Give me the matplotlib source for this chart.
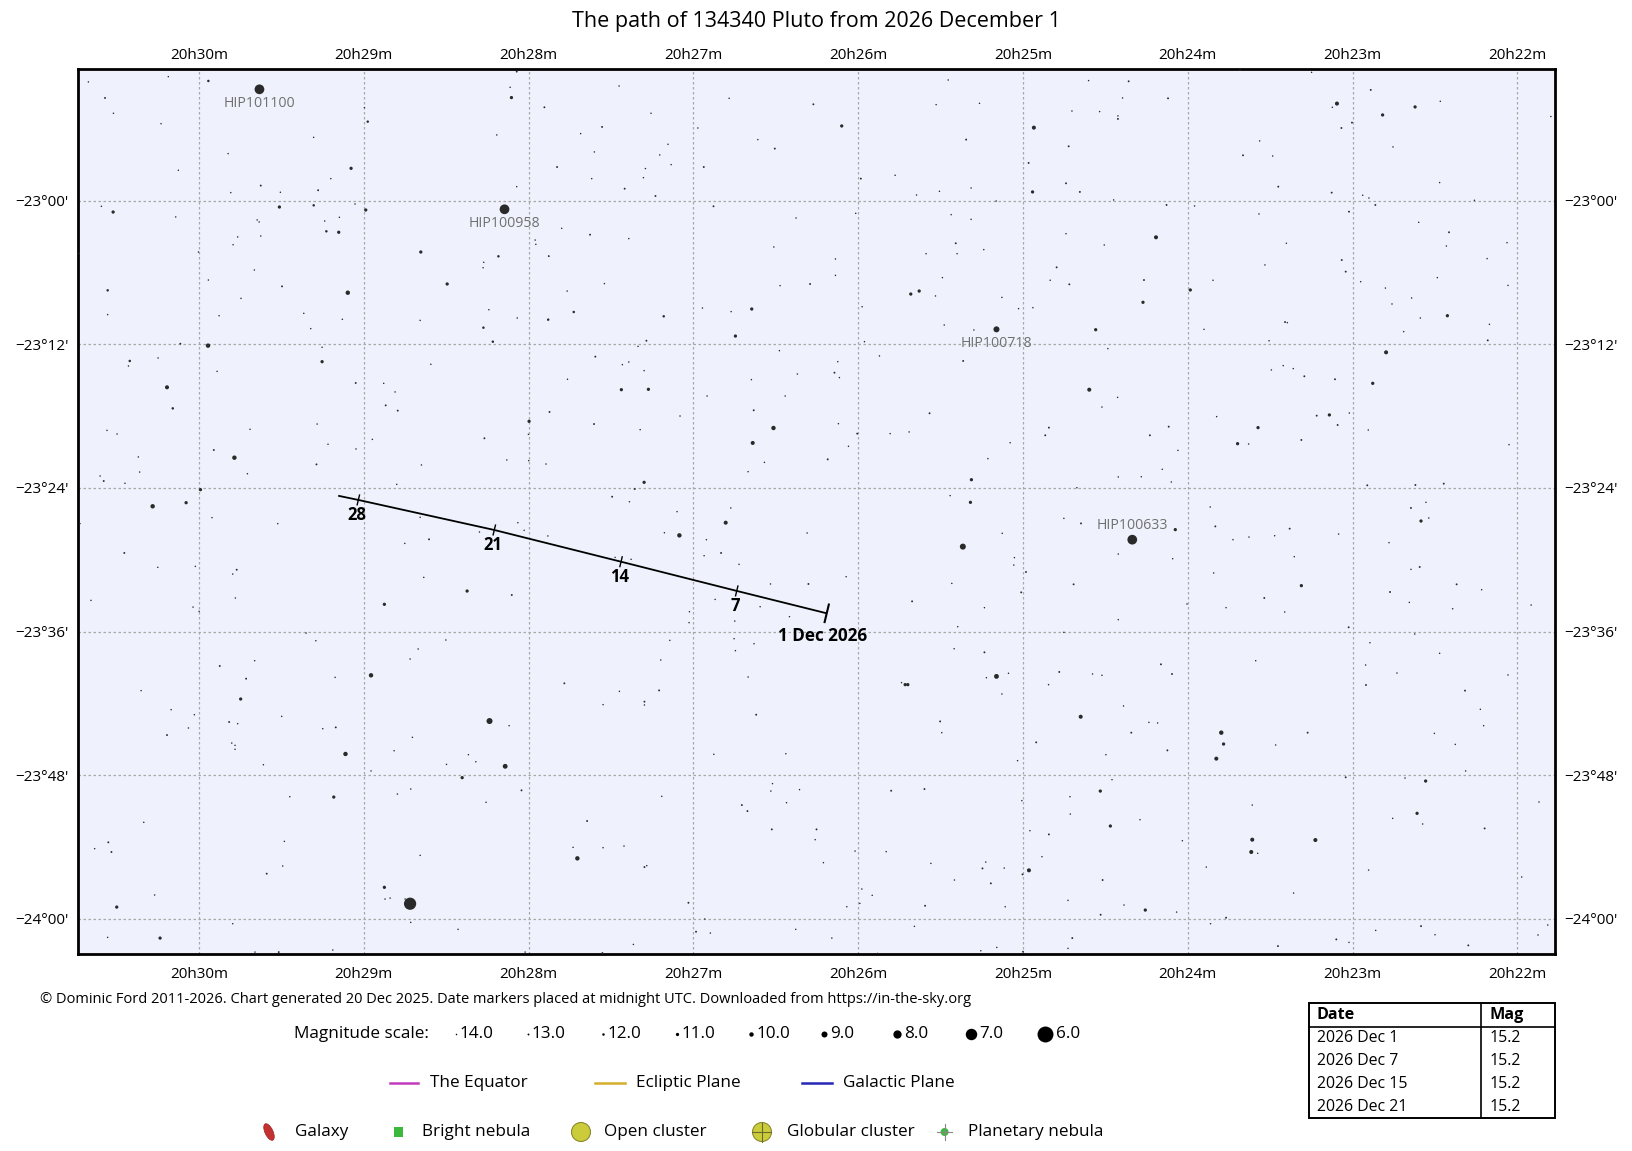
import numpy as np
import matplotlib.pyplot as plt
from matplotlib.patches import Ellipse, Rectangle, Circle

plt.rcParams['font.family'] = ['Open Sans', 'DejaVu Sans']

# ---- data -------------------------------------------------------------
# star positions: RA in minutes after 20h, Dec in arcmin south of -23d00', magnitude
stars_nw = [
    (30.671, -9.92, 14), (30.186, -10.36, 14), (29.943, -10.00, 12), (30.570, -8.58, 13),
    (30.519, -7.30, 14), (30.230, -6.43, 14), (28.996, -7.77, 14), (28.976, -6.60, 12),
    (29.304, -5.29, 14), (29.823, -3.93, 14), (30.125, -2.54, 14), (29.077, -2.70, 11),
    (29.200, -1.84, 14), (29.625, -1.26, 13), (29.277, -0.87, 13), (29.807, -0.67, 14),
    (29.506, -0.70, 14), (28.072, -10.78, 13), (28.112, -9.47, 14), (28.104, -8.61, 11),
    (27.904, -7.80, 13), (28.193, -5.49, 14), (28.072, -1.17, 14), (30.592, 0.47, 14),
    (30.521, 0.95, 11), (30.141, 1.36, 14), (29.512, 0.53, 11), (29.304, 0.39, 12),
    (29.053, 0.28, 14), (28.988, 0.78, 11), (29.148, 1.39, 14), (29.237, 1.70, 14),
    (29.647, 1.61, 14), (29.635, 1.78, 14), (29.227, 2.56, 12), (29.152, 2.64, 11),
    (29.765, 3.03, 14), (29.625, 2.95, 14), (29.793, 3.68, 14), (30.728, 4.40, 14),
    (30.003, 4.29, 14), (29.664, 5.79, 14), (29.496, 7.16, 13), (29.943, 6.63, 14),
    (29.097, 7.69, 10), (30.554, 7.49, 12), (29.745, 8.16, 14), (30.554, 9.52, 14),
    (29.878, 9.61, 14), (29.364, 9.41, 14), (29.322, 10.69, 14), (29.130, 9.91, 14),
    (28.654, 4.29, 11), (28.183, 4.65, 12), (28.272, 5.15, 14), (28.276, 5.60, 14),
    (27.960, 3.29, 14), (27.956, 3.65, 14), (27.877, 4.65, 14), (28.494, 6.96, 11),
    (28.241, 9.11, 14), (28.069, 9.80, 14), (27.881, 9.94, 12), (28.658, 10.00, 14),
    (28.274, 10.61, 12), (28.217, 11.78, 12), (30.113, 11.95, 13), (29.945, 12.11, 10),
    (29.253, 12.25, 14),
]
stars_w = [
    (30.420, 13.39, 12), (30.428, 13.81, 14), (30.248, 13.14, 14), (30.194, 15.59, 10.3),
    (30.159, 17.35, 12), (29.890, 14.26, 14), (29.253, 13.45, 11), (29.049, 15.23, 13),
    (30.558, 19.19, 14), (30.497, 19.49, 14), (30.368, 21.41, 14), (30.360, 22.67, 14),
    (30.600, 23.00, 14), (30.578, 23.42, 13), (30.449, 23.61, 14), (29.910, 20.83, 13),
    (29.785, 21.47, 10), (29.690, 19.10, 14), (29.706, 22.81, 14), (29.283, 18.66, 14),
    (29.217, 20.35, 14), (29.047, 20.74, 14), (29.287, 22.03, 13), (28.879, 15.26, 14),
    (28.810, 15.98, 14), (28.867, 17.10, 13), (28.794, 17.54, 13), (28.948, 19.94, 14),
    (28.593, 13.67, 14), (28.650, 22.08, 14), (28.800, 23.70, 14), (28.268, 19.85, 13),
    (28.132, 21.66, 14), (27.997, 18.43, 11), (28.001, 19.52, 14), (27.999, 21.72, 14),
    (27.894, 22.00, 14), (27.873, 17.65, 13), (29.991, 24.14, 11), (30.281, 25.53, 10),
    (30.078, 25.23, 11), (30.722, 26.98, 14), (29.921, 26.48, 14), (29.522, 26.98, 14),
    (28.658, 26.45, 14), (28.604, 28.29, 13), (28.751, 28.63, 14), (28.298, 27.68, 14),
    (28.065, 26.90, 14), (28.027, 27.54, 14), (27.883, 28.01, 14), (30.453, 29.43, 13),
    (30.250, 30.63, 14), (30.022, 30.55, 14), (29.795, 31.19, 14), (29.771, 30.83, 13),
    (29.779, 33.19, 14), (30.655, 33.39, 14), (30.036, 33.95, 14), (29.999, 34.31, 14),
    (28.636, 31.47, 14), (28.373, 32.61, 11), (28.102, 32.94, 13), (28.875, 33.72, 11),
    (29.350, 36.12, 14), (29.291, 36.76, 14), (28.502, 36.70, 14), (28.670, 37.45, 14),
]
stars_sw = [
    (29.874, 38.87, 13), (29.662, 38.43, 14), (29.714, 39.93, 13), (29.747, 41.63, 11),
    (30.351, 40.93, 14), (30.169, 42.52, 14), (30.028, 42.94, 14), (30.064, 44.05, 14),
    (30.194, 44.64, 13), (29.817, 43.55, 13), (29.765, 43.69, 14), (29.801, 45.31, 14),
    (29.781, 45.50, 14), (29.781, 45.83, 14), (29.609, 47.12, 14), (29.498, 43.08, 14),
    (29.174, 39.82, 14), (29.249, 44.11, 14), (29.170, 44.00, 13), (29.111, 46.22, 10),
    (28.956, 39.65, 10), (28.719, 38.29, 14), (28.705, 44.83, 14), (28.816, 45.95, 14),
    (28.237, 43.47, 9), (28.118, 43.86, 14), (28.365, 46.28, 14), (28.320, 46.87, 14),
    (28.498, 47.09, 14), (28.142, 47.25, 9.7), (28.403, 48.20, 11), (28.043, 49.26, 13),
    (28.258, 50.26, 14), (28.796, 49.57, 14), (28.715, 49.15, 14), (28.956, 47.64, 14),
    (29.449, 49.79, 14), (29.182, 49.82, 11), (30.335, 51.93, 14), (30.550, 53.60, 13),
    (30.633, 54.13, 14), (30.531, 54.41, 13), (29.482, 53.52, 14), (29.492, 55.58, 14),
    (29.589, 56.22, 13), (28.658, 54.69, 14), (28.875, 57.36, 11), (28.871, 58.34, 14),
    (28.840, 58.26, 14), (28.749, 58.34, 14), (28.719, 58.73, 6.8), (28.715, 60.29, 14),
    (28.428, 60.87, 14), (30.269, 58.00, 14), (30.499, 59.01, 11), (30.554, 61.54, 14),
    (30.236, 61.60, 11), (29.795, 60.40, 14), (29.660, 62.77, 14), (29.516, 62.77, 13),
    (29.188, 62.60, 14), (28.021, 62.77, 14),
]
stars_n = [
    (27.451, -9.58, 14), (27.257, -7.30, 14), (27.684, -5.60, 14), (27.554, -6.16, 13),
    (27.601, -4.07, 14), (27.154, -4.71, 14), (27.204, -3.82, 14), (27.135, -3.01, 14),
    (27.827, -2.81, 13), (27.617, -1.84, 14), (27.291, -2.68, 14), (27.303, -1.92, 14),
    (27.417, -1.00, 13), (27.230, -0.39, 13), (26.783, -8.55, 14), (26.272, -8.05, 13),
    (26.100, -6.24, 11), (26.973, -6.07, 14), (26.609, -5.10, 14), (26.506, -4.35, 13),
    (26.937, -2.81, 13), (25.454, -10.08, 14), (25.527, -8.02, 14), (25.264, -8.13, 14),
    (25.345, -5.10, 13), (25.984, -1.84, 13), (25.776, -2.12, 14), (25.646, -0.47, 14),
    (25.507, -0.78, 14), (25.315, -1.06, 14), (25.163, 0.03, 14), (27.799, 2.31, 14),
    (27.627, 2.84, 13), (27.392, 3.17, 14), (27.878, 4.62, 14), (27.540, 6.93, 14),
    (27.766, 7.55, 14), (27.726, 9.30, 12), (27.180, 9.66, 12), (27.285, 11.70, 13),
    (27.336, 12.17, 14), (26.878, 0.47, 13), (26.377, 1.45, 14), (26.512, 3.87, 14),
    (26.138, 4.87, 14), (26.138, 6.24, 14), (26.292, 6.96, 13), (26.474, 7.10, 14),
    (26.945, 8.97, 14), (26.771, 9.27, 14), (26.646, 9.05, 11), (26.745, 11.31, 11),
    (26.015, 1.06, 14), (25.436, 1.17, 14), (25.315, 1.56, 14), (25.408, 3.56, 13),
    (25.588, 4.43, 14), (25.400, 4.43, 14), (25.238, 4.09, 14), (25.489, 6.43, 14),
    (25.681, 7.80, 11), (25.630, 7.55, 11), (25.531, 7.96, 14), (25.128, 8.08, 14),
    (25.027, 9.02, 14), (25.976, 8.86, 14), (25.478, 10.39, 14), (25.298, 10.80, 14),
    (25.962, 11.78, 14),
]
stars_c = [
    (27.595, 13.03, 13), (27.431, 13.70, 14), (27.392, 13.48, 14), (27.299, 14.20, 14),
    (27.764, 14.92, 14), (27.437, 15.79, 11), (27.273, 15.76, 11), (27.603, 18.66, 13),
    (27.323, 19.13, 14), (27.081, 17.99, 14), (27.299, 23.53, 11), (27.356, 24.09, 13),
    (27.493, 24.73, 13), (27.388, 25.15, 14), (27.099, 25.98, 14), (27.176, 27.74, 14),
    (27.085, 27.96, 10), (27.475, 29.80, 14), (27.378, 29.96, 14), (26.478, 12.53, 14),
    (26.648, 14.95, 14), (26.369, 14.48, 14), (26.144, 14.37, 13), (26.114, 14.78, 14),
    (26.124, 13.45, 14), (26.917, 16.32, 14), (26.443, 16.32, 14), (26.634, 17.51, 13),
    (26.514, 18.99, 10), (26.640, 20.24, 10.3), (26.120, 18.63, 14), (26.006, 19.46, 13),
    (26.059, 20.52, 14), (26.569, 21.86, 14), (26.185, 21.61, 13), (26.668, 22.64, 14),
    (26.773, 25.67, 14), (26.804, 26.90, 10.3), (26.921, 28.32, 14), (26.832, 29.43, 13),
    (26.935, 29.66, 14), (26.723, 30.38, 14), (26.310, 27.76, 14), (26.073, 31.41, 14),
    (26.302, 32.02, 13), (26.532, 32.02, 14), (26.868, 33.31, 14), (26.595, 33.92, 14),
    (26.417, 34.75, 14), (27.024, 34.34, 14), (27.026, 35.25, 14), (26.749, 35.12, 14),
    (27.143, 36.73, 14), (26.753, 36.59, 14), (26.632, 37.01, 14), (25.871, 12.97, 14),
    (25.363, 13.39, 13), (25.567, 17.76, 13), (25.806, 19.46, 14), (25.691, 19.32, 14),
    (25.078, 20.22, 14), (25.213, 21.55, 14), (25.313, 23.31, 11), (25.442, 24.64, 14),
    (25.319, 25.20, 11), (25.365, 28.90, 9), (25.126, 27.79, 14), (25.052, 29.82, 14),
    (25.056, 30.44, 14), (25.011, 32.72, 13), (25.432, 31.97, 14), (25.673, 33.47, 13),
    (25.234, 34.00, 14), (25.396, 35.59, 14), (25.418, 37.43, 14),
]
stars_s = [
    (27.783, 40.32, 13), (27.198, 38.37, 14), (27.449, 40.99, 14), (27.548, 42.10, 14),
    (27.297, 41.85, 13), (27.297, 42.13, 14), (27.208, 40.91, 13), (26.745, 37.59, 14),
    (26.668, 39.79, 14), (26.619, 42.94, 13), (26.876, 46.25, 14), (26.439, 46.20, 14),
    (25.234, 37.73, 13), (25.161, 39.74, 9.7), (25.088, 39.48, 14), (25.222, 39.85, 14),
    (25.128, 41.21, 14), (25.737, 40.26, 14), (25.715, 40.43, 11), (25.699, 40.43, 11),
    (25.503, 43.50, 13), (25.493, 44.44, 14), (25.033, 46.78, 14), (27.192, 49.76, 14),
    (27.645, 51.82, 13), (27.730, 54.02, 14), (27.548, 54.05, 14), (27.421, 53.91, 14),
    (27.704, 54.94, 10), (27.297, 55.67, 13), (27.283, 55.55, 14), (27.030, 58.65, 13),
    (26.520, 48.70, 14), (26.530, 49.32, 14), (26.356, 49.20, 14), (26.435, 50.29, 14),
    (26.706, 50.49, 13), (26.672, 50.99, 13), (26.524, 52.52, 13), (26.253, 52.52, 13),
    (26.261, 53.38, 14), (26.019, 54.33, 14), (26.211, 55.30, 14), (26.069, 58.98, 14),
    (25.800, 49.29, 13), (25.598, 49.15, 13), (25.830, 54.38, 14), (25.559, 55.36, 14),
    (25.226, 55.25, 14), (25.246, 55.78, 13), (25.114, 55.75, 14), (25.416, 56.75, 14),
    (25.195, 57.03, 13), (25.978, 57.50, 14), (25.915, 58.03, 14), (25.990, 58.70, 14),
    (25.594, 58.90, 13), (25.108, 58.98, 14), (25.003, 56.28, 13), (25.007, 50.12, 14),
    (26.931, 60.01, 14), (26.984, 61.07, 13), (26.897, 61.18, 14), (26.379, 60.87, 14),
    (26.160, 61.60, 14), (25.659, 60.62, 14), (25.256, 62.66, 14), (25.159, 62.38, 14),
    (27.364, 62.13, 14), (27.552, 62.85, 13), (25.883, 62.88, 14),
]
stars_ne = [
    (24.602, -10.03, 14), (24.359, -9.97, 13), (24.703, -7.49, 14), (24.535, -7.44, 14),
    (24.396, -8.58, 14), (24.120, -8.55, 13), (24.424, -7.08, 14), (24.424, -6.83, 13),
    (24.934, -6.10, 10.3), (24.723, -4.54, 13), (24.966, -3.15, 13), (24.739, -1.45, 13),
    (24.942, -0.73, 11), (24.655, -0.73, 13), (24.450, -0.06, 14), (23.683, -10.92, 14),
    (23.249, -10.72, 14), (23.095, -8.11, 10.3), (23.123, -7.80, 14), (23.068, -6.07, 13),
    (23.004, -6.52, 13), (23.564, -4.99, 14), (23.665, -3.79, 13), (23.485, -3.73, 14),
    (23.451, -1.17, 13), (23.127, -0.67, 13), (22.890, -9.25, 13), (22.818, -7.16, 11),
    (22.621, -7.83, 11), (22.468, -8.30, 14), (22.755, -4.49, 14), (22.472, -1.51, 14),
    (22.939, -0.45, 14), (22.901, -0.22, 14), (22.862, 0.36, 13), (22.261, -0.03, 14),
    (24.129, 0.36, 13), (23.959, 0.44, 14), (23.568, 1.11, 14), (23.022, 0.92, 13),
    (22.599, 1.81, 14), (22.415, 2.64, 13), (22.431, 3.79, 14), (22.184, 4.84, 14),
    (24.739, 2.76, 14), (24.507, 3.70, 14), (24.193, 3.06, 10.3), (24.796, 5.57, 13),
    (24.835, 6.65, 14), (24.719, 6.99, 13), (24.266, 6.63, 13), (24.272, 8.49, 11),
    (24.940, 8.94, 14), (24.559, 10.78, 11), (24.485, 12.36, 14), (23.402, 3.56, 14),
    (23.532, 5.37, 14), (23.847, 6.65, 14), (23.985, 7.46, 11), (23.066, 4.96, 13),
    (23.042, 5.93, 13), (23.902, 10.75, 14), (23.410, 10.14, 13), (23.396, 10.19, 14),
    (23.507, 11.70, 14), (22.951, 6.77, 14), (22.801, 7.30, 14), (22.761, 8.63, 14),
    (22.642, 8.13, 14), (22.486, 6.43, 14), (22.425, 9.61, 11), (22.589, 9.80, 14),
    (22.690, 10.94, 14), (22.170, 10.33, 14), (22.180, 11.67, 13),
]
stars_e = [
    (24.598, 15.79, 10.3), (24.426, 16.43, 14), (24.521, 17.24, 14), (24.843, 18.96, 13),
    (24.865, 19.60, 13), (24.116, 18.88, 13), (24.230, 19.60, 13), (24.060, 20.86, 14),
    (24.422, 23.08, 14), (24.282, 23.06, 14), (24.155, 22.44, 14), (24.100, 23.50, 14),
    (24.673, 23.98, 14), (23.493, 14.14, 14), (23.421, 13.78, 14), (23.360, 14.03, 14),
    (23.293, 14.67, 13), (23.107, 14.92, 13), (23.825, 18.04, 14), (23.574, 18.96, 11),
    (23.698, 20.30, 11), (23.631, 20.33, 14), (23.311, 19.99, 13), (23.218, 17.96, 13),
    (23.141, 17.90, 11), (23.091, 18.74, 13), (23.020, 17.74, 14), (22.797, 12.67, 10.3),
    (22.878, 15.26, 11), (22.905, 19.16, 14), (22.911, 23.78, 13), (22.619, 23.75, 13),
    (22.447, 23.64, 13), (24.752, 26.54, 14), (24.648, 26.96, 13), (24.076, 27.48, 11),
    (24.422, 29.52, 14), (24.092, 29.91, 14), (24.982, 31.02, 13), (24.693, 32.05, 13),
    (24.422, 35.00, 14), (24.752, 36.06, 14), (23.864, 25.59, 14), (23.833, 27.21, 13),
    (23.726, 28.32, 14), (23.629, 28.10, 14), (23.473, 27.99, 14), (23.382, 27.40, 13),
    (23.354, 29.74, 14), (23.085, 27.85, 14), (23.843, 31.10, 14), (23.311, 32.16, 11),
    (23.536, 33.19, 13), (23.768, 34.00, 14), (23.412, 34.36, 14), (24.005, 33.69, 14),
    (23.024, 35.64, 13), (22.646, 25.67, 13), (22.555, 25.20, 14), (22.585, 26.76, 11),
    (22.538, 26.51, 14), (22.779, 28.57, 14), (22.646, 30.80, 14), (22.593, 30.60, 13),
    (22.369, 32.05, 13), (22.217, 32.50, 14), (22.773, 32.69, 13), (22.656, 33.56, 14),
    (22.393, 34.09, 14), (22.623, 36.20, 14), (22.895, 36.93, 14),
]
stars_se = [
    (24.780, 39.37, 13), (24.845, 40.43, 14), (24.578, 39.54, 14), (24.521, 39.65, 14),
    (24.163, 38.73, 13), (24.096, 39.54, 13), (24.390, 42.21, 14), (24.650, 43.11, 10.3),
    (24.236, 43.58, 14), (24.183, 43.63, 14), (24.343, 44.44, 13), (24.920, 45.25, 13),
    (24.497, 46.28, 14), (24.124, 45.92, 13), (23.588, 38.43, 14), (23.797, 44.44, 10),
    (23.783, 45.39, 11), (23.827, 46.61, 10.3), (23.273, 44.44, 13), (23.467, 45.47, 14),
    (22.921, 38.79, 14), (22.731, 39.46, 14), (22.472, 37.81, 14), (22.919, 40.46, 13),
    (22.318, 40.93, 13), (22.225, 42.49, 14), (22.205, 43.86, 14), (22.504, 44.50, 14),
    (22.377, 45.42, 14), (22.314, 47.64, 14), (23.042, 48.17, 13), (24.460, 48.37, 14),
    (24.531, 49.32, 11), (24.715, 49.79, 14), (24.713, 51.24, 14), (24.290, 51.71, 14),
    (24.470, 52.24, 11), (24.958, 52.63, 14), (24.843, 52.94, 13), (24.885, 54.80, 14),
    (24.964, 55.94, 10.3), (24.033, 53.47, 14), (24.517, 56.75, 13), (24.727, 58.45, 14),
    (24.387, 58.84, 14), (24.258, 59.26, 11), (24.068, 59.43, 14), (24.529, 59.65, 13),
    (24.701, 61.60, 13), (24.727, 62.46, 14), (25.000, 62.74, 13), (23.609, 50.49, 14),
    (23.609, 53.38, 10.3), (23.615, 54.41, 10.3), (23.576, 54.52, 14), (23.226, 53.41, 10.3),
    (23.888, 55.67, 14), (23.358, 57.84, 14), (23.862, 60.40, 14), (23.768, 59.90, 13),
    (23.453, 62.27, 13), (23.099, 61.71, 13), (23.022, 61.96, 14), (22.682, 48.23, 14),
    (22.557, 48.48, 11), (22.757, 51.60, 14), (22.609, 51.18, 11), (22.575, 52.07, 14),
    (22.199, 52.44, 13), (22.903, 55.92, 14), (22.860, 60.96, 14), (22.585, 60.60, 13),
    (22.500, 61.32, 14), (22.298, 62.21, 13),
]
stars_edge = [
    (21.797, -7.03, 14), (22.063, 3.51, 14), (22.057, 7.08, 14), (22.051, 20.38, 14),
    (21.917, 33.78, 14), (22.057, 39.62, 14), (21.869, 50.23, 14), (21.974, 56.50, 14),
    (21.875, 61.34, 14), (21.816, 60.51, 14),
]

hip_names = ['HIP101100', 'HIP100958', 'HIP100718', 'HIP100633']
hip_ra = [29.633, 28.146, 25.161, 24.337]
hip_dec = [-9.30, 0.72, 10.75, 28.32]
hip_mag = [7.5, 7.5, 9.0, 7.5]
hip_label_below = [True, True, True, False]

# Pluto path (day of December 2026)
path_day = [1, 7, 14, 21, 28, 29]
path_ra = [26.191, 26.737, 27.439, 28.208, 29.033, 29.155]
path_dec = [34.47, 32.60, 30.16, 27.51, 25.00, 24.65]
marked_days = [7, 14, 21, 28]

ra_ticks = [30, 29, 28, 27, 26, 25, 24, 23, 22]
dec_ticks = [0, 12, 24, 36, 48, 60]
dec_labels = ["\u221223\u00b000'", "\u221223\u00b012'", "\u221223\u00b024'",
              "\u221223\u00b036'", "\u221223\u00b048'", "\u221224\u00b000'"]

legend_mags = [14.0, 13.0, 12.0, 11.0, 10.0, 9.0, 8.0, 7.0, 6.0]
table_dates = ['2026 Dec 1', '2026 Dec 7', '2026 Dec 15', '2026 Dec 21']
table_mags = [15.2, 15.2, 15.2, 15.2]


def dot_px(mag):
    return 0.5 + 13.0 * 0.71 ** (np.asarray(mag) - 6.5)


def dot_area(mag):
    return (dot_px(mag) * 0.72) ** 2


# ---- figure -----------------------------------------------------------
W, H = 1633, 1151
fig = plt.figure(figsize=(W / 100, H / 100), dpi=100)
ax = fig.add_axes([78 / W, 1 - 954 / H, (1555 - 78) / W, (954 - 68.5) / H])
ax.set_facecolor('#eff2fc')
ax.set_xlim(30.734, 21.772)
ax.set_ylim(62.93, -11.04)

all_stars = stars_nw + stars_w + stars_sw + stars_n + stars_c + stars_s + stars_ne + stars_e + stars_se + stars_edge
sra = np.array([s[0] for s in all_stars])
sdec = np.array([s[1] for s in all_stars])
smag = np.array([s[2] for s in all_stars])
ax.scatter(sra, sdec, s=dot_area(smag), color='#2a2a2a', linewidths=0, zorder=3)
ax.scatter(hip_ra, hip_dec, s=dot_area(hip_mag), color='#2a2a2a', linewidths=0, zorder=3)
for name, r, d, below in zip(hip_names, hip_ra, hip_dec, hip_label_below):
    ax.annotate(name, (r, d), xytext=(0, -10 if below else 10), textcoords='offset points',
                ha='center', va='center', fontsize=10.2, color='#707070', zorder=4)

# axes, grid, ticks
ax.set_xticks(ra_ticks)
ax.set_xticklabels([f'20h{t}m' for t in ra_ticks])
ax.set_yticks(dec_ticks)
ax.set_yticklabels(dec_labels)
ax.tick_params(axis='x', length=0, pad=9, labelsize=11)
ax.tick_params(axis='y', length=0, pad=7, labelsize=11, left=True, right=True,
               labelleft=True, labelright=True)
sec = ax.secondary_xaxis('top')
sec.set_xticks(ra_ticks)
sec.set_xticklabels([f'20h{t}m' for t in ra_ticks])
sec.tick_params(length=0, pad=4, labelsize=11)
sec.spines['top'].set_visible(False)
ax.grid(True, color='#a8a8a8', linestyle=(0, (2, 2)), linewidth=0.9)
ax.set_axisbelow(True)
for sp in ax.spines.values():
    sp.set_linewidth(2)
    sp.set_color('black')

# Pluto path
ax.plot(path_ra, path_dec, color='black', lw=1.3, zorder=5, solid_capstyle='butt')
tr = ax.transData
pts = tr.transform(np.column_stack([path_ra, path_dec]))
dvec = pts[-1] - pts[0]
dvec /= np.hypot(*dvec)
nvec = np.array([-dvec[1], dvec[0]])
inv = tr.inverted()
for day, p in zip(path_day, pts):
    if day in marked_days:
        half = 5
    elif day == path_day[0]:
        half = 9
    else:
        continue
    seg = inv.transform(np.array([p - nvec * half, p + nvec * half]))
    ax.plot(seg[:, 0], seg[:, 1], color='black', lw=1.0 if day != 1 else 1.5, zorder=5)
for day, r, d in zip(path_day, path_ra, path_dec):
    if day in marked_days:
        ax.annotate(str(day), (r, d), xytext=(-1, -11), textcoords='offset points',
                    ha='center', va='center', fontsize=12, fontweight='bold', zorder=6)
    elif day == path_day[0]:
        ax.annotate('1 Dec 2026', (r, d), xytext=(-3, -16), textcoords='offset points',
                    ha='center', va='center', fontsize=12.3, fontweight='bold', zorder=6)

fig.text(816.5 / W, 1 - 22 / H, 'The path of 134340 Pluto from 2026 December 1',
         ha='center', va='center', fontsize=15.5)

# ---- legend area (pixel layout) ---------------------------------------
lax = fig.add_axes([0, 0, 1, 1])
lax.set_xlim(0, W)
lax.set_ylim(H, 0)
lax.axis('off')

lax.text(39.6, 999, '\u00a9 Dominic Ford 2011-2026. Chart generated 20 Dec 2025. '
         'Date markers placed at midnight UTC. Downloaded from https://in-the-sky.org',
         fontsize=10.5, va='center', ha='left')

fs = 12.3
ym = 1034
lax.text(293.6, ym, 'Magnitude scale:', fontsize=fs, va='center', ha='left')
dot_x = [456, 528, 603, 676.6, 751, 824, 897, 971, 1045]
for m, x in zip(legend_mags, dot_x):
    lax.scatter([x], [ym], s=dot_area(m), color='black', linewidths=0)
    lax.text(x + dot_px(m) / 2 + 3, ym, f'{m:.1f}', fontsize=fs, va='center', ha='left')

yl = 1083
for (x0, x1, tx), col, lab in zip([(390, 418, 430), (595, 625, 636), (802, 832, 843)],
                                  ['#c03cbf', '#d4ae2a', '#2626b8'],
                                  ['The Equator', 'Ecliptic Plane', 'Galactic Plane']):
    lax.plot([x0, x1], [yl, yl], color=col, lw=1.8)
    lax.text(tx, yl, lab, fontsize=fs, va='center', ha='left')

yo = 1132
lax.add_patch(Ellipse((269, yo), 8, 18, angle=-25, facecolor='#c23232', edgecolor='#a02020', lw=0.5))
lax.text(295, yo, 'Galaxy', fontsize=fs, va='center', ha='left')
lax.add_patch(Rectangle((394.5, yo - 5), 9, 10, facecolor='#3cb83c', edgecolor='none'))
lax.text(422, yo, 'Bright nebula', fontsize=fs, va='center', ha='left')
lax.add_patch(Circle((581, yo), 9.5, facecolor='#cccc3a', edgecolor='#8a8a30', lw=0.8))
lax.text(604, yo, 'Open cluster', fontsize=fs, va='center', ha='left')
lax.add_patch(Circle((762, yo), 9.5, facecolor='#cccc3a', edgecolor='#8a8a30', lw=0.8))
lax.plot([752.5, 771.5], [yo, yo], color='#6a6a30', lw=0.8)
lax.plot([762, 762], [yo - 9.5, yo + 9.5], color='#6a6a30', lw=0.8)
lax.text(787, yo, 'Globular cluster', fontsize=fs, va='center', ha='left')
lax.plot([937, 952], [yo, yo], color='#888888', lw=0.8)
lax.plot([944.6, 944.6], [yo - 8, yo + 8], color='#888888', lw=0.8)
lax.add_patch(Circle((944.6, yo), 4, facecolor='#3cb83c', edgecolor='none'))
lax.text(968, yo, 'Planetary nebula', fontsize=fs, va='center', ha='left')

# magnitude table
tx0, tx1, ty0, ty1 = 1309, 1555.3, 1003.3, 1118.3
lax.add_patch(Rectangle((tx0, ty0), tx1 - tx0, ty1 - ty0, facecolor='white',
                        edgecolor='black', lw=1.4))
lax.plot([1481.3, 1481.3], [ty0, ty1], color='black', lw=1.2)
lax.plot([tx0, tx1], [1026.7, 1026.7], color='black', lw=1.2)
lax.text(1316.7, 1015, 'Date', fontsize=11.6, fontweight='bold', va='center', ha='left')
lax.text(1489.3, 1015, 'Mag', fontsize=11.6, fontweight='bold', va='center', ha='left')
for i, (dt, mg) in enumerate(zip(table_dates, table_mags)):
    yy = 1038.3 + i * 23.0
    lax.text(1316.7, yy, dt, fontsize=11.4, va='center', ha='left')
    lax.text(1489.3, yy, f'{mg:.1f}', fontsize=11.4, va='center', ha='left')

fig.savefig('out.png', dpi=100)
